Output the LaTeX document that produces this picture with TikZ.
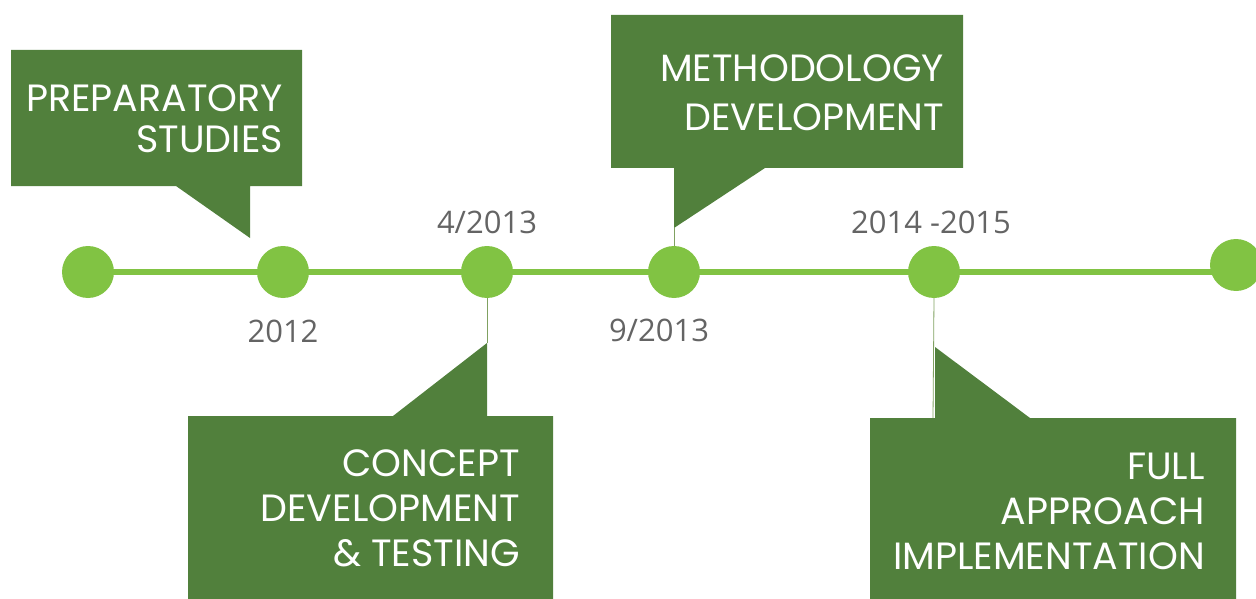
\documentclass[tikz,border=0pt]{standalone}
\usepackage{fontspec}
\setmainfont{Poppins}
\newfontfamily\datefont{Open Sans}
\usetikzlibrary{backgrounds}
\definecolor{boxgreen}{RGB}{81,128,60}
\definecolor{dotgreen}{RGB}{129,195,67}
\definecolor{dategray}{RGB}{100,100,100}

\begin{document}
\begin{tikzpicture}[x=1pt,y=-1pt,
    dot/.style={circle, fill=dotgreen, minimum size=52pt, inner sep=0pt},
    stage/.style={white, align=right, anchor=east, inner sep=0pt,
      font=\fontsize{38}{#1}\selectfont},
    date/.style={dategray, font=\datefont\fontsize{31}{36}\selectfont},
    link/.style={dotgreen!50!gray, line width=0.8pt}]
    \useasboundingbox (0,0) rectangle (1256,599);

    % timeline dots
    \node[dot] (d1) at (88,272) {};
    \node[dot] (d2) at (283,272) {};
    \node[dot] (d3) at (487,272) {};
    \node[dot] (d4) at (674,272) {};
    \node[dot] (d5) at (934,272) {};
    \node[dot] (d6) at (1236,265) {};
    \begin{scope}[on background layer]
      \draw[dotgreen, line width=6pt] (d1.center) -- (d5.center) -- (d6.center |- d5.center);
    \end{scope}

    % dates
    \node[date] (y2012) at (283,331) {2012};
    \node[date] (apr13) at (487,222) {4/2013};
    \node[date] (sep13) at (659,330) {9/2013};
    \node[date] (y1415) at (931,222) {2014 -2015};

    % callout boxes
    \fill[boxgreen] (11,50) -- (302,50) -- (302,186) -- (250,186) -- (250,238)
      -- (176,186) -- (11,186) -- cycle;
    \fill[boxgreen] (611,15) -- (963,15) -- (963,168) -- (765,168) -- (674,228)
      -- (674,168) -- (611,168) -- cycle;
    \fill[boxgreen] (188,416) -- (393,416) -- (487,343) -- (487,416) -- (553,416)
      -- (553,599) -- (188,599) -- cycle;
    \fill[boxgreen] (870,418) -- (935,418) -- (935,347) -- (1030,418) -- (1236,418)
      -- (1236,599) -- (870,599) -- cycle;

    % thin links from dots to callouts
    \coordinate (tip2) at (487,343);
    \coordinate (tip3) at (674,228);
    \coordinate (tip4) at (933,418);
    \draw[link] (d3.south) -- (tip2);
    \draw[link] (tip3) -- (d4.north);
    \draw[link] (d5.south) -- (tip4);

    % stage labels
    \node[stage=41] (prep) at (283,119) {PREPARATORY\\STUDIES};
    \node[stage=49] (meth) at (944,93) {METHODOLOGY\\DEVELOPMENT};
    \node[stage=45] (conc) at (520,508) {CONCEPT\\DEVELOPMENT\\\& TESTING};
    \node[stage=45] (full) at (1205,511) {FULL\\APPROACH\\IMPLEMENTATION};
\end{tikzpicture}
\end{document}
